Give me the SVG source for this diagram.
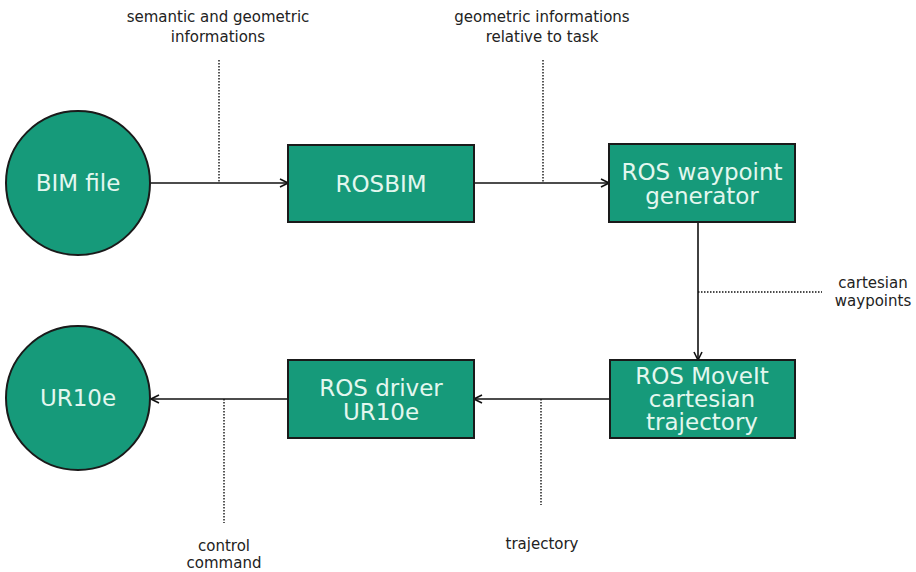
<svg xmlns="http://www.w3.org/2000/svg" width="916" height="572" viewBox="0 0 916 572">
<style>
.node{fill:#169a7a;stroke:#1a1a1a;stroke-width:2}
.nt{font-family:"DejaVu Sans",sans-serif;font-size:23px;fill:#e3f7ef;text-anchor:middle}
.lb{font-family:"DejaVu Sans",sans-serif;font-size:15px;fill:#222;text-anchor:middle}
.edge{stroke:#111;stroke-width:1.6;fill:none}
.dot{stroke:#111;stroke-width:1.4;stroke-dasharray:1.5,1.5;fill:none}
</style>
<defs>
<marker id="arr" viewBox="0 0 10 10" refX="9" refY="5" markerWidth="10" markerHeight="10" markerUnits="userSpaceOnUse" orient="auto">
<path d="M1,1 L9,5 L1,9" fill="none" stroke="#111" stroke-width="1.6"/>
</marker>
</defs>
<rect width="916" height="572" fill="#fff"/>
<g id="connectors">
<line class="edge" x1="151" y1="183" x2="288" y2="183" marker-end="url(#arr)"/>
<line class="edge" x1="474" y1="183" x2="609" y2="183" marker-end="url(#arr)"/>
<line class="edge" x1="698" y1="222" x2="698" y2="360" marker-end="url(#arr)"/>
<line class="edge" x1="610" y1="399" x2="474" y2="399" marker-end="url(#arr)"/>
<line class="edge" x1="288" y1="399" x2="151" y2="399" marker-end="url(#arr)"/>
<line class="dot" x1="219" y1="60" x2="219" y2="183"/>
<line class="dot" x1="543" y1="60" x2="543" y2="183"/>
<line class="dot" x1="698" y1="292" x2="822" y2="292"/>
<line class="dot" x1="541" y1="399" x2="541" y2="505"/>
<line class="dot" x1="224" y1="399" x2="224" y2="523"/>
</g>
<g id="labels">
<text class="lb" x="218" y="22">semantic and geometric</text>
<text class="lb" x="218" y="42">informations</text>
<text class="lb" x="542" y="22">geometric informations</text>
<text class="lb" x="542" y="42">relative to task</text>
<text class="lb" x="873" y="288">cartesian</text>
<text class="lb" x="873" y="306">waypoints</text>
<text class="lb" x="224" y="551">control</text>
<text class="lb" x="224" y="568">command</text>
<text class="lb" x="542" y="549">trajectory</text>
</g>
<g id="bim">
<circle class="node" cx="78" cy="183" r="72"/>
<text class="nt" x="78" y="191">BIM file</text>
</g>
<g id="rosbim">
<rect class="node" x="288" y="145" width="186" height="77"/>
<text class="nt" x="381" y="192">ROSBIM</text>
</g>
<g id="waypoint">
<rect class="node" x="609" y="144" width="186" height="78"/>
<text class="nt" x="702" y="180">ROS waypoint</text>
<text class="nt" x="702" y="204">generator</text>
</g>
<g id="moveit">
<rect class="node" x="610" y="360" width="185" height="78"/>
<text class="nt" x="702" y="384">ROS MoveIt</text>
<text class="nt" x="702" y="407">cartesian</text>
<text class="nt" x="702" y="430">trajectory</text>
</g>
<g id="driver">
<rect class="node" x="288" y="360" width="186" height="78"/>
<text class="nt" x="381" y="396">ROS driver</text>
<text class="nt" x="381" y="420">UR10e</text>
</g>
<g id="ur10e">
<circle class="node" cx="78" cy="398" r="72"/>
<text class="nt" x="78" y="406">UR10e</text>
</g>
</svg>
